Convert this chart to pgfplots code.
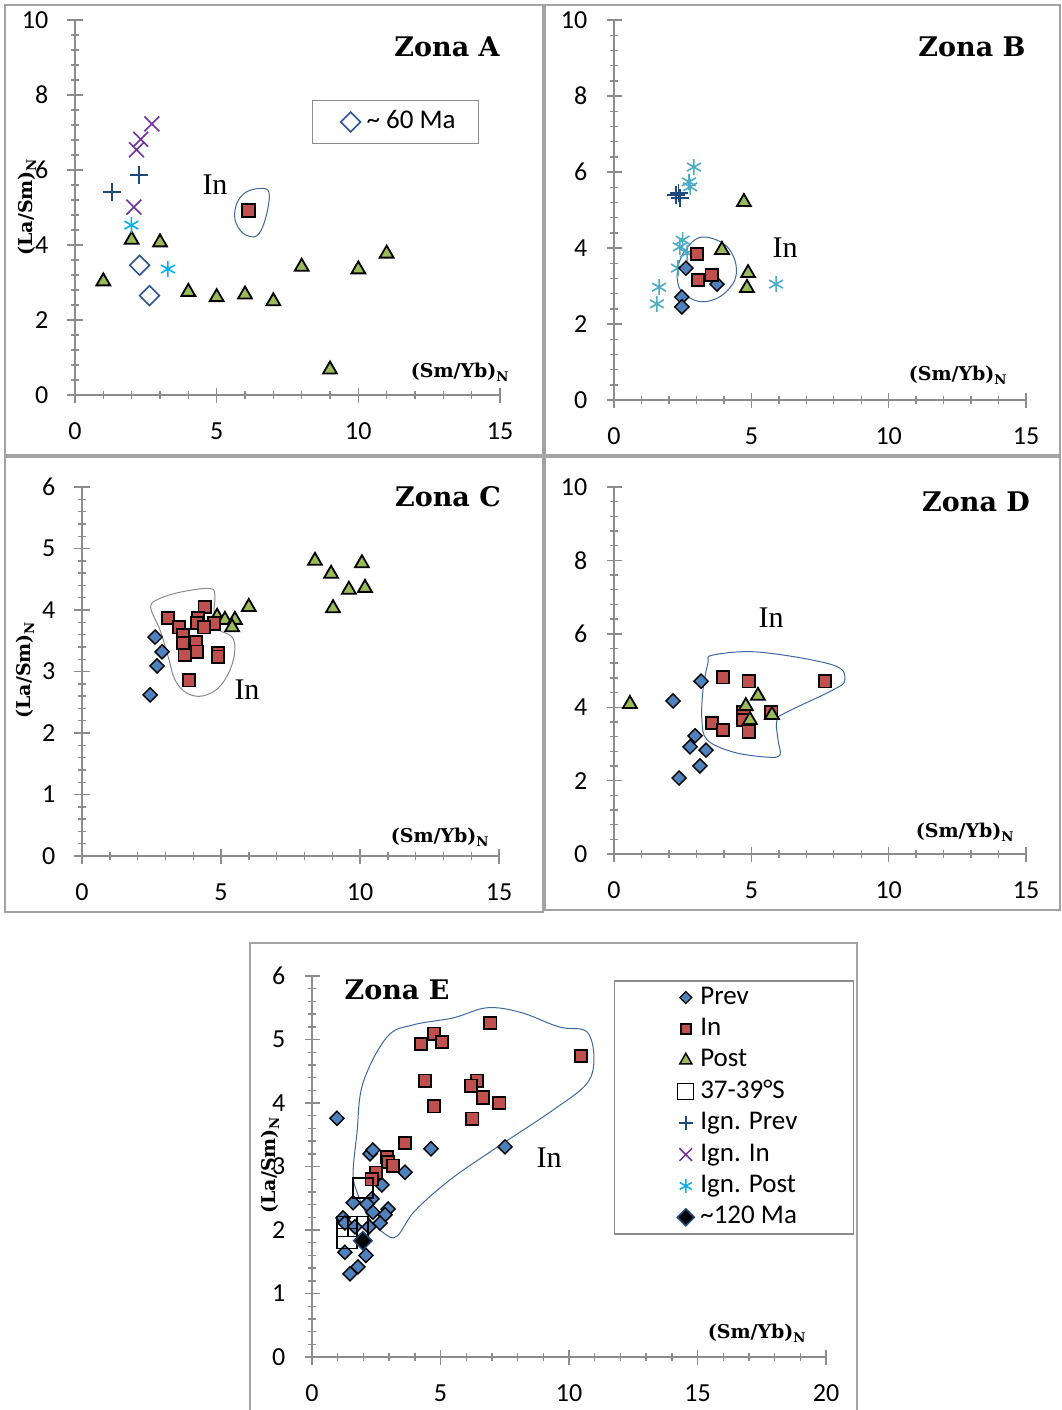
\documentclass[border=0pt]{standalone}
\usepackage{pgfplots}
\pgfplotsset{compat=1.18}
\usepackage{fontspec}
\setmainfont{Liberation Serif}
\newfontfamily\calibri{Carlito}
\newfontfamily\dvs{DejaVu Serif}
\definecolor{prevblue}{HTML}{4F81BD}
\definecolor{inred}{HTML}{C0504D}
\definecolor{postgreen}{HTML}{9BBB59}
\definecolor{ignblue}{HTML}{1F497D}
\definecolor{ignpurple}{HTML}{7030A0}
\definecolor{igncyan}{HTML}{00B0F0}
\definecolor{ignteal}{HTML}{4BACC6}
\definecolor{ma60}{HTML}{2B5595}
\definecolor{axgray}{HTML}{8C8C8C}
\definecolor{framegray}{HTML}{A3A3A3}
\definecolor{contblue}{HTML}{3F68A0}
\definecolor{contgray}{HTML}{8A8A8A}
\newcommand\tickfont{\calibri\fontsize{26}{30}\selectfont}
\newcommand\legfont{\calibri\fontsize{27}{31}\selectfont}
\newcommand\zona[1]{{\dvs\bfseries\fontsize{27}{31}\selectfont Zona #1}}
\newcommand\smyb{{\dvs\bfseries\fontsize{19}{22}\selectfont (Sm/Yb)\textsubscript{N}}}
\newcommand\lasm{{\dvs\bfseries\fontsize{19}{22}\selectfont (La/Sm)\textsubscript{N}}}
\newcommand\inlab{{\fontsize{30}{34}\selectfont In}}
\pgfplotsset{
  panel/.style={
    scale only axis, anchor=south west, clip=false,
    axis x line*=bottom, axis y line*=left,
    xmin=0, ymin=0,
    axis line style={axgray, line width=1.8pt},
    tick style={axgray, line width=1.4pt},
    tick align=center, major tick length=15pt, minor tick length=8pt,
    minor x tick num=4, minor y tick num=4,
    /pgf/number format/assume math mode=true,
    ticklabel style={font=\tickfont, inner sep=0pt},
    xticklabel style={anchor=north, yshift=-20pt},
    yticklabel style={anchor=east, xshift=-19pt},
    legend image code/.code={%
      \path (-12pt,0pt);
      \draw[mark repeat=2, mark phase=2, #1] plot coordinates {(0cm,0cm) (0.3cm,0cm) (0.6cm,0cm)};},
  },
  prev/.style={only marks, mark=square*, mark size=5pt, mark options={rotate=45, fill=prevblue, draw=black, line width=1.4pt}},
  inn/.style={only marks, mark=square*, mark size=6.3pt, mark options={fill=inred, draw=black, line width=1.8pt}},
  post/.style={only marks, mark=triangle*, mark size=8pt, mark options={fill=postgreen, draw=black, line width=1.8pt}},
  sq/.style={only marks, mark=square, mark size=10pt, mark options={draw=black, line width=1.3pt}},
  iprev/.style={only marks, mark=+, mark size=9pt, mark options={draw=ignblue, line width=1.6pt}},
  iin/.style={only marks, mark=x, mark size=10.5pt, mark options={draw=ignpurple, line width=1.6pt}},
  ipost/.style={only marks, mark=asterisk, mark size=8pt, mark options={draw=igncyan, line width=1.6pt}},
  ipostB/.style={only marks, mark=asterisk, mark size=8pt, mark options={draw=ignteal, line width=1.6pt}},
  msixty/.style={only marks, mark=square*, mark size=7pt, mark options={rotate=45, fill=white, draw=ma60, line width=1.5pt}},
  mtwenty/.style={only marks, mark=square*, mark size=6.5pt, mark options={rotate=45, fill=black, draw=ignblue, line width=1.5pt}},
  cont/.style={contblue, line width=1pt, smooth cycle, tension=0.6, mark=none},
}
\begin{document}
\begin{tikzpicture}
\useasboundingbox (0,0) rectangle (1061pt,-1410pt);
\fill[white] (0,0) rectangle (1061pt,-1410pt);
\clip (0,0) rectangle (1061pt,-1410pt);
% frames
\draw[framegray, line width=2pt] (5pt,-5pt) rectangle (543pt,-455pt);
\draw[framegray, line width=2pt] (545pt,-5pt) rectangle (1060pt,-455pt);
\draw[framegray, line width=2pt] (5pt,-457pt) rectangle (543pt,-912pt);
\draw[framegray, line width=2pt] (545pt,-457pt) rectangle (1060pt,-910pt);
\draw[framegray, line width=2pt] (250pt,-1415pt) -- (250pt,-943pt) -- (857pt,-943pt) -- (857pt,-1415pt);

% ---------------- Zona A
\begin{axis}[panel, at={(75pt,-395pt)}, width=425pt, height=375pt,
  xmax=15, ymax=10, xtick={0,5,10,15}, ytick={0,2,4,6,8,10},
  legend style={at={(0.754,0.728)}, anchor=center, draw=axgray, line width=1.5pt,
    font=\legfont, inner xsep=17pt, inner ysep=9pt,
    nodes={inner xsep=6pt, inner ysep=0pt, text height=19pt, text depth=6pt}}]
\addplot[cont, forget plot] coordinates {(5.71,5.11) (6.06,5.42) (6.65,5.51) (6.86,5.33) (6.71,4.67) (6.41,4.24) (5.94,4.31) (5.65,4.67)};
\addplot[post, forget plot] coordinates {(1,3.03) (2,4.14) (3,4.07) (4,2.75) (5,2.61) (6,2.68) (7,2.5) (8,3.42) (10,3.35) (11,3.77) (9,0.68)};
\addplot[inn, forget plot] coordinates {(6.12,4.92)};
\addplot[iprev, forget plot] coordinates {(1.3,5.41) (2.26,5.87)};
\addplot[iin, forget plot] coordinates {(2.08,5.01) (2.17,6.54) (2.32,6.82) (2.71,7.23)};
\addplot[ipost, forget plot] coordinates {(1.99,4.53) (3.28,3.36)};
\addplot[msixty] coordinates {(2.28,3.46) (2.63,2.65)};
\addlegendentry{\textasciitilde{} 60 Ma}
\end{axis}

% ---------------- Zona B
\begin{axis}[panel, at={(614pt,-400pt)}, width=412pt, height=380pt,
  xmax=15, ymax=10, xtick={0,5,10,15}, ytick={0,2,4,6,8,10}]
\addplot[cont] coordinates {(3.13,4.28) (3.98,4.12) (4.4,3.68) (4.4,3.16) (3.86,2.72) (3.13,2.59) (2.46,2.85) (2.3,3.33) (2.52,3.86)};
\addplot[iprev] coordinates {(2.26,5.39) (2.4,5.32) (2.35,5.45)};
\addplot[ipostB] coordinates {(2.91,6.13) (2.73,5.74) (2.77,5.61) (2.5,4.21) (2.4,4.03) (2.66,3.87) (2.33,3.47) (1.64,2.97) (1.56,2.53) (5.9,3.05)};
\addplot[prev] coordinates {(2.62,3.47) (2.47,2.71) (2.47,2.45) (3.75,3.05)};
\addplot[inn] coordinates {(3.02,3.84) (3.06,3.16) (3.56,3.29)};
\addplot[post] coordinates {(4.73,5.21) (3.93,3.95) (4.88,3.34) (4.84,2.95)};
\end{axis}

% ---------------- Zona C
\begin{axis}[panel, at={(82pt,-856pt)}, width=417pt, height=369pt,
  xmax=15, ymax=6, xtick={0,5,10,15}, ytick={0,1,2,3,4,5,6}]
\addplot[cont, contgray] coordinates {(2.47,4.05) (2.81,3.67) (3.1,3.24) (3.35,2.86) (3.77,2.65) (4.31,2.6) (4.9,2.73) (5.32,3.02) (5.5,3.35) (5.38,3.57) (4.85,3.7) (4.75,3.95) (4.78,4.24) (4.6,4.35) (3.64,4.3) (2.81,4.19)};
\addplot[prev] coordinates {(2.63,3.56) (2.88,3.32) (2.70,3.09) (2.45,2.62)};
\addplot[post] coordinates {(4.86,3.89) (5.14,3.84) (5.5,3.84) (5.4,3.72) (6.0,4.05) (8.38,4.80) (8.96,4.59) (10.07,4.76) (9.6,4.33) (10.18,4.36) (9.03,4.03)};
\addplot[inn] coordinates {(3.09,3.87) (4.42,4.05) (3.49,3.72) (3.63,3.59) (4.17,3.87) (4.14,3.79) (4.75,3.78) (4.39,3.72) (3.63,3.46) (4.10,3.48) (3.70,3.27) (4.14,3.32) (4.89,3.30) (4.89,3.24) (3.85,2.86)};
\end{axis}

% ---------------- Zona D
\begin{axis}[panel, at={(614pt,-854pt)}, width=412pt, height=367pt,
  xmax=15, ymax=10, xtick={0,5,10,15}, ytick={0,2,4,6,8,10}]
\addplot[cont] coordinates {(3.6,5.42) (5.3,5.5) (7.97,5.15) (8.4,4.74) (7.97,4.47) (6.3,3.87) (5.93,3.65) (5.97,3.11) (6.04,2.7) (5.57,2.64) (4.33,2.78) (3.39,3.11) (3.2,3.65) (3.24,4.47) (3.42,5.2)};
\addplot[prev] coordinates {(3.17,4.71) (2.15,4.17) (2.95,3.22) (2.77,2.92) (3.35,2.83) (3.13,2.40) (2.37,2.07)};
\addplot[inn] coordinates {(3.97,4.82) (4.91,4.71) (7.68,4.71) (4.7,3.87) (4.7,3.65) (5.72,3.87) (3.57,3.57) (3.97,3.38) (4.91,3.33)};
\addplot[post] coordinates {(0.58,4.09) (4.8,4.03) (5.24,4.31) (4.95,3.65) (5.75,3.79)};
\end{axis}

% ---------------- Zona E
\begin{axis}[panel, at={(312pt,-1357pt)}, width=514pt, height=381pt,
  xmax=20, ymax=6, xtick={0,5,10,15,20}, ytick={0,1,2,3,4,5,6},
  legend cell align=left,
  legend style={at={(0.821,0.655)}, anchor=center, draw=axgray, line width=1.5pt,
    font=\legfont, inner xsep=50pt, inner ysep=4pt, row sep=6.4pt,
    nodes={inner xsep=6pt, inner ysep=0pt, text height=19pt, text depth=6pt}}]
\addplot[cont, forget plot] coordinates {(1.6,2.9) (1.75,3.53) (1.98,4.31) (2.92,5.04) (3.93,5.23) (5.49,5.34) (6.81,5.5) (8.09,5.43) (9.38,5.23) (9.84,5.18) (10.7,5.12) (10.97,4.72) (10.7,4.31) (9.38,3.89) (7.04,3.26) (5.37,2.79) (4.0,2.3) (3.3,1.9) (2.8,1.95) (2.2,2.2) (1.75,2.6)};
\addplot[prev, forget plot] coordinates {(0.97,3.76) (4.63,3.28) (7.51,3.31) (2.26,3.2) (2.37,3.26) (3.62,2.91) (2.72,2.71) (1.6,2.43) (2.33,2.49) (2.14,2.41) (2.37,2.28) (2.96,2.33) (2.84,2.24) (2.65,2.11) (1.21,2.19) (1.28,2.11) (1.67,2.05) (2.22,2.05) (1.28,1.65) (2.1,1.6) (1.79,1.42) (1.48,1.31)};
\addplot[inn, forget plot] coordinates {(6.93,5.26) (4.75,5.09) (4.24,4.93) (5.06,4.96) (10.47,4.74) (4.4,4.35) (6.42,4.35) (6.19,4.27) (6.65,4.09) (7.28,4.0) (4.75,3.95) (6.23,3.75) (3.62,3.37) (2.92,3.15) (2.96,3.07) (3.15,3.01) (2.49,2.9) (2.33,2.8)};
\addplot[sq, forget plot] coordinates {(1.98,2.66) (1.36,2.05) (1.36,1.87) (1.79,2.05)};
\addplot[mtwenty, forget plot] coordinates {(1.98,1.83)};
\addlegendimage{only marks, mark=square*, mark size=4.2pt, mark options={rotate=45, fill=prevblue, draw=black, line width=1.3pt}}
\addlegendentry{Prev}
\addlegendimage{only marks, mark=square*, mark size=5pt, mark options={fill=inred, draw=black, line width=1.5pt}}
\addlegendentry{In}
\addlegendimage{only marks, mark=triangle*, mark size=7pt, mark options={fill=postgreen, draw=black, line width=1.5pt}}
\addlegendentry{Post}
\addlegendimage{only marks, mark=square, mark size=8pt, mark options={draw=black, line width=1.3pt}}
\addlegendentry{37-39°S}
\addlegendimage{only marks, mark=+, mark size=7pt, mark options={draw=ignblue, line width=1.5pt}}
\addlegendentry{Ign. Prev}
\addlegendimage{only marks, mark=x, mark size=9pt, mark options={draw=ignpurple, line width=1.5pt}}
\addlegendentry{Ign. In}
\addlegendimage{only marks, mark=asterisk, mark size=7pt, mark options={draw=igncyan, line width=1.5pt}}
\addlegendentry{Ign. Post}
\addlegendimage{only marks, mark=square*, mark size=6pt, mark options={rotate=45, fill=black, draw=ignblue, line width=1.5pt}}
\addlegendentry{\textasciitilde120 Ma}
\end{axis}

% ---------------- texts
\node at (447pt,-47pt) {\zona{A}};
\node at (972pt,-47pt) {\zona{B}};
\node at (448pt,-497pt) {\zona{C}};
\node at (976pt,-502pt) {\zona{D}};
\node at (397pt,-990pt) {\zona{E}};
\node at (460pt,-372pt) {\smyb};
\node at (958pt,-375pt) {\smyb};
\node at (440pt,-837pt) {\smyb};
\node at (965pt,-832pt) {\smyb};
\node at (757pt,-1333pt) {\smyb};
\node[rotate=90] at (27pt,-207pt) {\lasm};
\node[rotate=90] at (25pt,-670pt) {\lasm};
\node[rotate=90] at (270pt,-1165pt) {\lasm};
\node at (215pt,-185pt) {\inlab};
\node at (785pt,-248pt) {\inlab};
\node at (247pt,-690pt) {\inlab};
\node at (771pt,-618pt) {\inlab};
\node at (549pt,-1158pt) {\inlab};
\end{tikzpicture}
\end{document}
